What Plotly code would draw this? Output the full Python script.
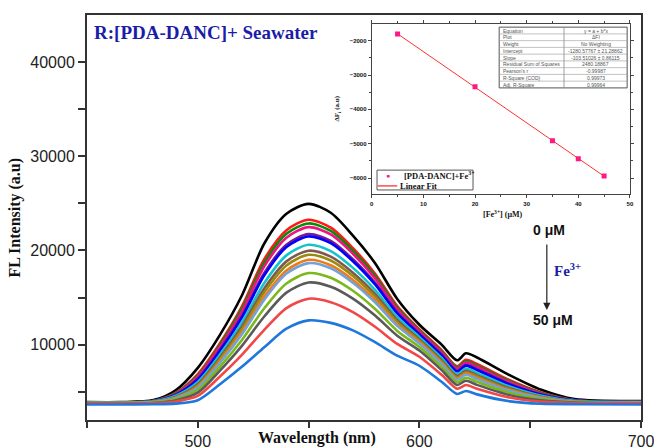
import numpy as np
import plotly.graph_objects as go

# Emission spectra of R:[PDA-DANC] in seawater with increasing Fe3+ (0 -> 50 uM)
wavelength = [450, 465, 480, 490, 500, 510, 520, 530, 540, 550, 560, 570,
              580, 590, 600, 610, 617, 621, 626, 640, 655, 670, 700]

fl_01 = [3900, 3900, 4110, 5160, 7540, 11040, 15270, 20740, 23900, 24950, 24000, 21580,
         18640, 14850, 12110, 10000, 8340, 9080, 8640, 6850, 5210, 4220, 4010]
fl_02 = [3850, 3850, 4020, 4880, 6880, 10160, 14100, 19070, 22150, 23260, 22420, 20250,
         17530, 14100, 11610, 9420, 7710, 8390, 7950, 6300, 4920, 4100, 3930]
fl_03 = [3850, 3850, 4020, 4840, 6740, 9970, 13840, 18690, 21770, 22870, 22070, 19960,
         17300, 13930, 11500, 9310, 7600, 8260, 7790, 6190, 4860, 4100, 3930]
fl_04 = [3850, 3850, 4020, 4780, 6610, 9790, 13570, 18310, 21360, 22480, 21700, 19650,
         17040, 13760, 11380, 9180, 7460, 8120, 7650, 6090, 4800, 4090, 3920]
fl_05 = [3850, 3850, 3990, 4690, 6370, 9450, 13100, 17610, 20610, 21740, 21010, 19060,
         16550, 13440, 11150, 8950, 7230, 7860, 7390, 5890, 4710, 4060, 3920]
fl_06 = [3850, 3850, 3990, 4660, 6300, 9340, 12930, 17360, 20360, 21490, 20770, 18860,
         16390, 13320, 11080, 8860, 7150, 7770, 7310, 5830, 4680, 4060, 3920]
fl_07 = [3850, 3850, 3980, 4570, 6030, 8940, 12380, 16550, 19480, 20600, 19930, 18150,
         15810, 12910, 10800, 8590, 6880, 7470, 7000, 5610, 4570, 4030, 3900]
fl_08 = [3800, 3800, 3910, 4450, 5810, 8630, 11950, 15960, 18840, 19970, 19340, 17640,
         15380, 12600, 10560, 8360, 6660, 7230, 6760, 5420, 4450, 3960, 3850]
fl_09 = [3800, 3800, 3910, 4400, 5670, 8440, 11670, 15560, 18410, 19540, 18940, 17300,
         15100, 12390, 10430, 8220, 6520, 7070, 6620, 5310, 4400, 3960, 3850]
fl_10 = [3800, 3800, 3910, 4350, 5530, 8230, 11360, 15090, 17880, 19010, 18430, 16870,
         14740, 12150, 10250, 8060, 6390, 6920, 6460, 5200, 4350, 3940, 3850]
fl_11 = [3800, 3800, 3890, 4320, 5430, 8080, 11140, 14780, 17550, 18660, 18110, 16580,
         14500, 11990, 10130, 7960, 6280, 6800, 6340, 5120, 4310, 3930, 3830]
fl_12 = [3800, 3800, 3880, 4210, 5180, 7660, 10520, 13860, 16500, 17600, 17100, 15720,
         13790, 11460, 9750, 7640, 6010, 6490, 6050, 4920, 4210, 3910, 3830]
fl_13 = [3750, 3750, 3810, 4080, 4910, 7250, 9900, 12990, 15520, 16600, 16150, 14890,
         13090, 10950, 9370, 7300, 5720, 6170, 5730, 4690, 4080, 3840, 3780]
fl_14 = [3750, 3750, 3790, 3970, 4560, 6620, 8950, 11570, 13880, 14880, 14510, 13460,
         11900, 10080, 8720, 6800, 5320, 5710, 5310, 4410, 3950, 3810, 3760]
fl_15 = [3650, 3650, 3680, 3740, 4100, 5790, 7670, 9720, 11690, 12580, 12310, 11510,
         10260, 8830, 7760, 6060, 4770, 5080, 4720, 4010, 3720, 3680, 3650]

spectra = [fl_01, fl_02, fl_03, fl_04, fl_05, fl_06, fl_07, fl_08,
           fl_09, fl_10, fl_11, fl_12, fl_13, fl_14, fl_15]
line_colors = ["#000000", "#FF1A1A", "#0A8A0A", "#F0147F", "#7A1A8C", "#0000FF",
               "#12C4CC", "#7E5A4E", "#9A8A10", "#F07A18", "#72A2D8", "#7CB81A",
               "#5A5A5A", "#F04848", "#1E78DC"]

x_tickvals = [450, 500, 550, 600, 650, 700]
x_ticktext = ["", "500", "", "600", "", "700"]
y_tickvals = [5000, 10000, 15000, 20000, 25000, 30000, 35000, 40000]
y_ticktext = ["", "10000", "", "20000", "", "30000", "", "40000"]

# Linear calibration (inset)
fe_conc = [5, 20, 35, 40, 45]
delta_f = [-1810, -3340, -4910, -5440, -5940]
inset_xticks = [0, 10, 20, 30, 40, 50]
inset_yticks = [-2000, -3000, -4000, -5000, -6000]

fit_rows = ["Equation", "Plot", "Weight", "Intercept", "Slope",
            "Residual Sum of Squares", "Pearson's r", "R-Square (COD)", "Adj. R-Square"]
fit_vals = ["y = a + b*x", "ΔFI", "No Weighting", "-1280.57767 ± 21.28862",
            "-103.51026 ± 0.86115", "2480.18867", "-0.99987", "0.99973", "0.99964"]

SERIF = "Liberation Serif"
SANS = "Liberation Sans"

fig = go.Figure()

for ys, col in zip(spectra, line_colors):
    fig.add_trace(go.Scatter(
        x=wavelength, y=ys, mode="lines",
        line=dict(color=col, width=2.6, shape="spline", smoothing=0.8),
        showlegend=False, hoverinfo="skip", xaxis="x", yaxis="y"))

slope, intercept = np.polyfit(fe_conc, delta_f, 1)
fit_x = [min(fe_conc), max(fe_conc)]
fit_y = [intercept + slope * v for v in fit_x]

fig.add_trace(go.Scatter(
    x=fe_conc, y=delta_f, mode="markers",
    marker=dict(symbol="square", size=5, color="#FF1493"),
    showlegend=False, xaxis="x2", yaxis="y2"))
fig.add_trace(go.Scatter(
    x=fit_x, y=fit_y, mode="lines", line=dict(color="#FF3030", width=1),
    showlegend=False, xaxis="x2", yaxis="y2"))

axis_line = dict(showline=True, linecolor="#333333", linewidth=2, mirror=True,
                 ticks="outside", tickcolor="#333333", tickwidth=1.5,
                 showgrid=False, zeroline=False, automargin=False,
                 ticklabeloverflow="allow")
inset_axis = dict(showline=True, linecolor="#444", linewidth=1, mirror="ticks",
                  ticks="outside", tickcolor="#444", ticklen=3, showgrid=False,
                  zeroline=False, automargin=False,
                  tickfont=dict(family=SANS, size=6, color="#111", weight="bold"))

fig.update_layout(
    width=654, height=448,
    margin=dict(l=87, r=13, t=15, b=28),
    paper_bgcolor="white", plot_bgcolor="white",
    showlegend=False,
    xaxis=dict(range=[450, 700], tickvals=x_tickvals, ticktext=x_ticktext,
               ticklen=6, tickfont=dict(family=SANS, size=16, color="#222"),
               domain=[0, 1], **axis_line),
    yaxis=dict(range=[2000, 45000], tickvals=y_tickvals, ticktext=y_ticktext,
               ticklen=7, tickfont=dict(family=SANS, size=16, color="#222"),
               domain=[0, 1], **axis_line),
    xaxis2=dict(domain=[0.514, 0.980], anchor="y2", range=[0, 50],
                tickvals=inset_xticks,
                minor=dict(ticks="outside", ticklen=2, dtick=5, tickcolor="#444"),
                **inset_axis),
    yaxis2=dict(domain=[0.557, 0.978], anchor="x2", range=[-6475, -1513],
                tickvals=inset_yticks,
                minor=dict(ticks="outside", ticklen=2, dtick=500, tickcolor="#444"),
                **inset_axis),
)

shapes = []
ann = []

# Fit-result table in the inset (paper coordinates)
tx0, tx1, ty0, ty1, tsplit = 0.744, 0.975, 0.820, 0.970, 0.861
n_rows = len(fit_rows)
row_h = (ty1 - ty0) / n_rows
shapes.append(dict(type="rect", xref="paper", yref="paper", x0=tx0, x1=tx1, y0=ty0, y1=ty1,
                   line=dict(color="#555", width=1), fillcolor="white", layer="above"))
shapes.append(dict(type="line", xref="paper", yref="paper", x0=tsplit, x1=tsplit,
                   y0=ty0, y1=ty1, line=dict(color="#888", width=0.8)))
for i in range(1, n_rows):
    yy = ty1 - i * row_h
    shapes.append(dict(type="line", xref="paper", yref="paper", x0=tx0, x1=tx1,
                       y0=yy, y1=yy, line=dict(color="#999", width=0.6)))
for i, (lab, val) in enumerate(zip(fit_rows, fit_vals)):
    yc = ty1 - (i + 0.5) * row_h
    ann.append(dict(text=lab, xref="paper", yref="paper", x=tx0 + 0.004, y=yc,
                    xanchor="left", yanchor="middle", showarrow=False,
                    font=dict(family=SANS, size=5, color="#555")))
    ann.append(dict(text=val, xref="paper", yref="paper", x=(tsplit + tx1) / 2, y=yc,
                    xanchor="center", yanchor="middle", showarrow=False,
                    font=dict(family=SANS, size=5, color="#555")))

# Inset legend
lx0, lx1, ly0, ly1 = 0.5235, 0.6968, 0.568, 0.617
row1_y, row2_y = 0.6025, 0.578
shapes.append(dict(type="rect", xref="paper", yref="paper", x0=lx0, x1=lx1, y0=ly0, y1=ly1,
                   line=dict(color="#555", width=1), fillcolor="white"))
ann.append(dict(text="●", xref="paper", yref="paper", x=0.5433, y=row1_y,
                xanchor="center", yanchor="middle", showarrow=False,
                font=dict(family=SANS, size=7, color="#FF1493")))
ann.append(dict(text="<b>[PDA-DANC]+Fe<sup>3+</sup></b>", xref="paper", yref="paper",
                x=0.568, y=row1_y, xanchor="left", yanchor="middle", showarrow=False,
                font=dict(family=SERIF, size=8.5, color="#111")))
shapes.append(dict(type="line", xref="paper", yref="paper", x0=0.525, x1=0.560,
                   y0=row2_y, y1=row2_y, line=dict(color="#FF2020", width=1.2)))
ann.append(dict(text="<b>Linear Fit</b>", xref="paper", yref="paper",
                x=0.562, y=row2_y, xanchor="left", yanchor="middle", showarrow=False,
                font=dict(family=SERIF, size=8.5, color="#111")))

ann.append(dict(text="<b>R:[PDA-DANC]+ Seawater</b>", xref="paper", yref="paper",
                x=0.009, y=0.958, xanchor="left", yanchor="middle", showarrow=False,
                font=dict(family=SERIF, size=19, color="#1C1CA8")))
ann.append(dict(text="<b>Wavelength (nm)</b>", xref="paper", yref="paper",
                x=0.415, y=-0.044, xanchor="center", yanchor="middle", showarrow=False,
                font=dict(family=SERIF, size=16, color="#111")))
ann.append(dict(text="<b>FL Intensity (a.u)</b>", xref="paper", yref="paper",
                x=-0.130, y=0.5, xanchor="center", yanchor="middle", showarrow=False,
                textangle=-90, font=dict(family=SERIF, size=16, color="#111")))
ann.append(dict(text="<b>0 μM</b>", xref="paper", yref="paper",
                x=0.834, y=0.469, xanchor="center", yanchor="middle", showarrow=False,
                font=dict(family=SANS, size=14, color="#111")))
ann.append(dict(text="<b>50 μM</b>", xref="paper", yref="paper",
                x=0.841, y=0.247, xanchor="center", yanchor="middle", showarrow=False,
                font=dict(family=SANS, size=14, color="#111")))
ann.append(dict(text="<b>Fe<sup>3+</sup></b>", xref="paper", yref="paper",
                x=0.868, y=0.370, xanchor="center", yanchor="middle", showarrow=False,
                font=dict(family=SERIF, size=15, color="#1C1CA8")))
ann.append(dict(text="", xref="paper", yref="paper", x=0.830, y=0.2716,
                ax=0, ay=-67, showarrow=True, arrowhead=2, arrowsize=1.2,
                arrowwidth=1.2, arrowcolor="#222"))
ann.append(dict(text="<b>[Fe<sup>3+</sup>] (μM)</b>", xref="paper", yref="paper",
                x=0.751, y=0.508, xanchor="center", yanchor="middle", showarrow=False,
                font=dict(family=SERIF, size=8, color="#111")))
ann.append(dict(text="<b>ΔF<sub>i</sub> (a.u)</b>", xref="paper", yref="paper",
                x=0.452, y=0.77, xanchor="center", yanchor="middle", showarrow=False,
                textangle=-90, font=dict(family=SERIF, size=7, color="#111")))

fig.update_layout(shapes=shapes, annotations=ann)

fig.write_html("out.html")
